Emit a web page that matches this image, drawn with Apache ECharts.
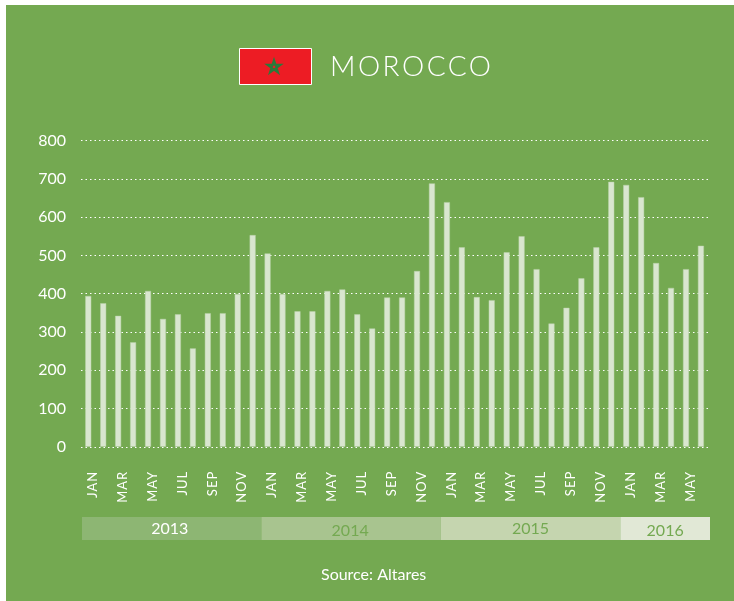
<!DOCTYPE html>
<html><head><meta charset="utf-8">
<style>html,body{margin:0;padding:0;background:#fff}#c{width:734px;height:601px}</style>
<script src="https://cdn.jsdelivr.net/npm/echarts@6/dist/echarts.min.js"></script>
</head><body><div id="c"></div>
<script>
const months = ['JAN','FEB','MAR','APR','MAY','JUN','JUL','AUG','SEP','OCT','NOV','DEC'];
const values2013 = [394,375,342,273,407,334,346,257,349,349,399,553];
const values2014 = [505,399,354,354,407,411,346,309,390,390,459,688];
const values2015 = [639,521,391,383,508,550,464,322,363,440,521,692];
const values2016 = [684,652,480,415,464,525];
const yearLabels = ['2013','2014','2015','2016'];
const yearLengths = [12,12,12,6];
const titleText = 'MOROCCO';
const sourceText = 'Source: Altares';

// Canvas text has no letter-spacing option in ECharts; apply it by text content.
const nativeFillText = CanvasRenderingContext2D.prototype.fillText;
CanvasRenderingContext2D.prototype.fillText = function (t, x, y, m) {
  this.letterSpacing = t === titleText ? '2.5px' : months.includes(t) ? '1px' : '0px';
  return m === undefined ? nativeFillText.call(this, t, x, y) : nativeFillText.call(this, t, x, y, m);
};

const categories = [];
yearLengths.forEach((n) => { for (let i = 0; i < n; i++) categories.push(months[i]); });
const values = [...values2013, ...values2014, ...values2015, ...values2016];

const FONT = 'Lato';
const GREEN = '#74a951';
const bandColors = ['#8db673', '#a8c48f', '#c5d5af', '#e1e8d6'];
const bandText = ['#ffffff', GREEN, GREEN, GREEN];
const bandOffset = [[-2, 0], [-1, 2], [0, 0], [0, 2]];

const star = [];
for (let i = 0; i < 5; i++) {
  const a = -Math.PI / 2 + i * 2 * 2 * Math.PI / 5;
  star.push([7 * Math.cos(a), 7 * Math.sin(a)]);
}

const chart = echarts.init(document.getElementById('c'), null, { renderer: 'canvas' });
chart.setOption({
  animation: false,
  backgroundColor: '#ffffff',
  title: [
    { text: titleText, left: 330, top: 53,
      textStyle: { color: '#fff', fontFamily: FONT, fontWeight: 300, fontSize: 28 }, padding: 0 },
    { text: sourceText, left: 321, top: 567, padding: 0,
      textStyle: { color: '#fff', fontFamily: FONT, fontWeight: 400, fontSize: 16 } }
  ],
  graphic: [
    { type: 'rect', silent: true, z: -10, shape: { x: 6, y: 5, width: 728, height: 596 }, style: { fill: GREEN } },
    { type: 'rect', silent: true, shape: { x: 239.5, y: 48.5, width: 72, height: 36 },
      style: { fill: '#ed1c24', stroke: '#fff', lineWidth: 1 } },
    { type: 'polygon', silent: true, x: 274, y: 67, shape: { points: star },
      style: { fill: 'none', stroke: '#2a7a3a', lineWidth: 2 } }
  ],
  grid: [
    { left: 81, width: 629, top: 140.5, height: 306.3, containLabel: false },
    { left: 82, width: 628, top: 517, height: 23, containLabel: false },
    { left: 80.8, width: 627.6, top: 140.5, height: 306.3, containLabel: false }
  ],
  xAxis: [
    { type: 'value', gridIndex: 0, min: 0, max: 1, show: false },
    { type: 'value', gridIndex: 1, min: 0, max: 42, show: false },
    { type: 'category', gridIndex: 2, data: categories, boundaryGap: true,
      axisTick: { show: false }, axisLine: { show: false },
      axisLabel: { interval: 1, rotate: 90, margin: 24, color: '#fff', fontFamily: FONT, fontSize: 13,
                   verticalAlign: 'top', lineHeight: 9 } }
  ],
  yAxis: [
    { type: 'value', gridIndex: 0, min: 0, max: 800, interval: 100,
      axisLine: { show: false }, axisTick: { show: false },
      axisLabel: { margin: 15, color: '#fff', fontFamily: FONT, fontSize: 16 },
      splitLine: { lineStyle: { color: '#fff', type: [1.5, 3], width: 1 } } },
    { type: 'category', gridIndex: 1, data: [''], show: false },
    { type: 'value', gridIndex: 2, min: 0, max: 800, show: false }
  ],
  series: [
    { type: 'bar', xAxisIndex: 2, yAxisIndex: 2, data: values, barWidth: 6,
      itemStyle: { color: '#d9e6cf', borderColor: '#b9d2a8', borderWidth: 0.5 } },
    ...yearLabels.map((y, i) => ({
      type: 'bar', name: y, xAxisIndex: 1, yAxisIndex: 1, stack: 'years', barWidth: '100%',
      data: [yearLengths[i]], itemStyle: { color: bandColors[i] },
      label: { show: true, position: 'inside', formatter: y, color: bandText[i],
               fontFamily: FONT, fontSize: 16, offset: bandOffset[i] }
    }))
  ]
});
</script></body></html>
